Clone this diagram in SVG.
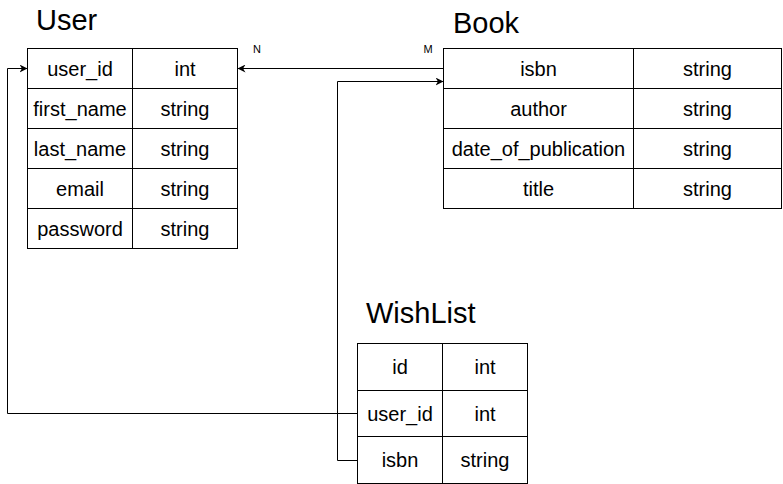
<svg xmlns="http://www.w3.org/2000/svg" width="783" height="484" viewBox="0 0 783 484">
<style>
.cell{fill:#ffffff;stroke:#000000;stroke-width:1}
.t{font-family:"Liberation Sans",Arial,Helvetica,sans-serif;font-size:20px;fill:#000000;text-anchor:middle;dominant-baseline:central}
.title{font-family:"Liberation Sans",Arial,Helvetica,sans-serif;font-size:29px;fill:#000000}
.lbl{font-family:"Liberation Sans",Arial,Helvetica,sans-serif;font-size:11px;fill:#000000;text-anchor:middle}
.edge{fill:none;stroke:#000000;stroke-width:1}
</style>
<defs>
<marker id="arr" viewBox="0 0 10 10" refX="10" refY="5" markerWidth="8" markerHeight="8" markerUnits="userSpaceOnUse" orient="auto">
<path d="M0,0 L10,5 L0,10 L3,5 Z" fill="#000000"/>
</marker>
</defs>
<rect width="783" height="484" fill="#ffffff"/>

<g id="connectors">
<path class="edge" d="M443.5,68.5 L237.5,68.5" marker-end="url(#arr)"/>
<path class="edge" d="M357.5,460.5 L337.5,460.5 L337.5,81.5 L443.5,81.5" marker-end="url(#arr)"/>
<path class="edge" d="M357.5,413.5 L7.5,413.5 L7.5,68.5 L27.5,68.5" marker-end="url(#arr)"/>
<text class="lbl" x="257" y="53">N</text>
<text class="lbl" x="428" y="53">M</text>
</g>

<g id="user">
<text class="title" x="36" y="30">User</text>
<rect class="cell" x="27.5" y="48.5" width="105" height="40"/>
<rect class="cell" x="132.5" y="48.5" width="105" height="40"/>
<rect class="cell" x="27.5" y="88.5" width="105" height="40"/>
<rect class="cell" x="132.5" y="88.5" width="105" height="40"/>
<rect class="cell" x="27.5" y="128.5" width="105" height="40"/>
<rect class="cell" x="132.5" y="128.5" width="105" height="40"/>
<rect class="cell" x="27.5" y="168.5" width="105" height="40"/>
<rect class="cell" x="132.5" y="168.5" width="105" height="40"/>
<rect class="cell" x="27.5" y="208.5" width="105" height="40"/>
<rect class="cell" x="132.5" y="208.5" width="105" height="40"/>
<text class="t" x="80" y="68.5">user_id</text>
<text class="t" x="185" y="68.5">int</text>
<text class="t" x="80" y="108.5">first_name</text>
<text class="t" x="185" y="108.5">string</text>
<text class="t" x="80" y="148.5">last_name</text>
<text class="t" x="185" y="148.5">string</text>
<text class="t" x="80" y="188.5">email</text>
<text class="t" x="185" y="188.5">string</text>
<text class="t" x="80" y="228.5">password</text>
<text class="t" x="185" y="228.5">string</text>
</g>

<g id="book">
<text class="title" x="453" y="33">Book</text>
<rect class="cell" x="443.5" y="48.5" width="190" height="40"/>
<rect class="cell" x="633.5" y="48.5" width="148" height="40"/>
<rect class="cell" x="443.5" y="88.5" width="190" height="40"/>
<rect class="cell" x="633.5" y="88.5" width="148" height="40"/>
<rect class="cell" x="443.5" y="128.5" width="190" height="40"/>
<rect class="cell" x="633.5" y="128.5" width="148" height="40"/>
<rect class="cell" x="443.5" y="168.5" width="190" height="40"/>
<rect class="cell" x="633.5" y="168.5" width="148" height="40"/>
<text class="t" x="538.5" y="68.5">isbn</text>
<text class="t" x="707.5" y="68.5">string</text>
<text class="t" x="538.5" y="108.5">author</text>
<text class="t" x="707.5" y="108.5">string</text>
<text class="t" x="538.5" y="148.5">date_of_publication</text>
<text class="t" x="707.5" y="148.5">string</text>
<text class="t" x="538.5" y="188.5">title</text>
<text class="t" x="707.5" y="188.5">string</text>
</g>

<g id="wishlist">
<text class="title" x="366" y="323">WishList</text>
<rect class="cell" x="357.5" y="343.5" width="85" height="47"/>
<rect class="cell" x="442.5" y="343.5" width="85" height="47"/>
<rect class="cell" x="357.5" y="390.5" width="85" height="46"/>
<rect class="cell" x="442.5" y="390.5" width="85" height="46"/>
<rect class="cell" x="357.5" y="436.5" width="85" height="47"/>
<rect class="cell" x="442.5" y="436.5" width="85" height="47"/>
<text class="t" x="400" y="367">id</text>
<text class="t" x="485" y="367">int</text>
<text class="t" x="400" y="413.5">user_id</text>
<text class="t" x="485" y="413.5">int</text>
<text class="t" x="400" y="460">isbn</text>
<text class="t" x="485" y="460">string</text>
</g>
</svg>
